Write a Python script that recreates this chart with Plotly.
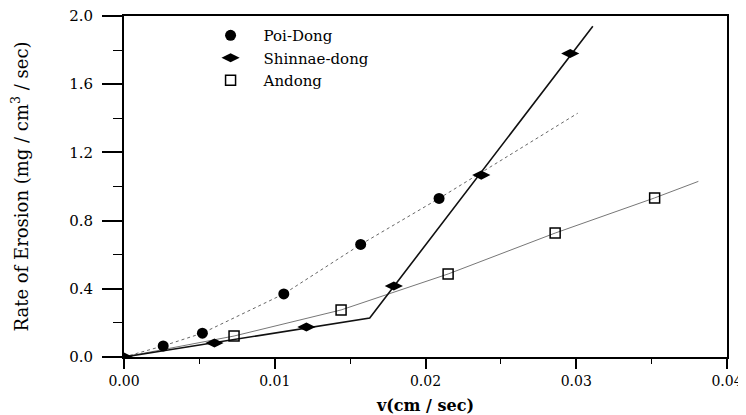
import plotly.graph_objects as go

# ---- data ----
poi_x = [0.0026, 0.0052, 0.0106, 0.0157, 0.0209]
poi_y = [0.065, 0.14, 0.37, 0.66, 0.93]
poi_line_x = [0.0, 0.0026, 0.0052, 0.0106, 0.0157, 0.0209, 0.0301]
poi_line_y = [0.0, 0.065, 0.14, 0.37, 0.66, 0.93, 1.43]

shin_x = [0.0, 0.0060, 0.0121, 0.0179, 0.0237, 0.0296]
shin_y = [0.0, 0.082, 0.176, 0.416, 1.067, 1.78]
shin_line_x = [0.0, 0.0163, 0.0311]
shin_line_y = [0.0, 0.229, 1.94]

and_x = [0.0073, 0.0144, 0.0215, 0.0286, 0.0352]
and_y = [0.123, 0.276, 0.487, 0.727, 0.933]
and_line_x = [0.0, 0.0073, 0.0144, 0.0215, 0.0286, 0.0352, 0.0381]
and_line_y = [0.0, 0.123, 0.276, 0.487, 0.727, 0.933, 1.03]

x_ticks = [0.00, 0.01, 0.02, 0.03, 0.04]
x_tick_text = ["0.00", "0.01", "0.02", "0.03", "0.04"]
y_ticks = [0.0, 0.4, 0.8, 1.2, 1.6, 2.0]
y_tick_text = ["0.0", "0.4", "0.8", "1.2", "1.6", "2.0"]

FONT = "DejaVu Serif"

fig = go.Figure()

# fitted / connecting lines (no legend)
fig.add_trace(go.Scatter(x=poi_line_x, y=poi_line_y, mode="lines",
                         line=dict(color="#666666", width=1, dash="dot"),
                         showlegend=False, hoverinfo="skip"))
fig.add_trace(go.Scatter(x=and_line_x, y=and_line_y, mode="lines",
                         line=dict(color="#777777", width=1),
                         showlegend=False, hoverinfo="skip"))
fig.add_trace(go.Scatter(x=shin_line_x, y=shin_line_y, mode="lines",
                         line=dict(color="#111111", width=1.6),
                         showlegend=False, hoverinfo="skip"))

# markers (legend)
fig.add_trace(go.Scatter(x=poi_x, y=poi_y, mode="markers", name="Poi-Dong",
                         marker=dict(symbol="circle", size=11, color="black")))
fig.add_trace(go.Scatter(x=shin_x, y=shin_y, mode="markers", name="Shinnae-dong",
                         marker=dict(symbol="diamond-wide", size=13, color="black")))
fig.add_trace(go.Scatter(x=and_x, y=and_y, mode="markers", name="Andong",
                         marker=dict(symbol="square-open", size=10, color="black",
                                     line=dict(width=1.5))))

# page body has an 8px margin, so the figure is 738x407 placed at (8, 8)
fig.update_layout(
    width=738, height=407,
    margin=dict(l=116, r=19, t=8, b=58, autoexpand=False),
    paper_bgcolor="white", plot_bgcolor="white",
    font=dict(family=FONT, size=16, color="black"),
    showlegend=True,
    legend=dict(x=0.122, y=0.991, xanchor="left", yanchor="top",
                bgcolor="rgba(0,0,0,0)", font=dict(family=FONT, size=15),
                itemwidth=56),
)

fig.update_xaxes(
    range=[0, 0.04], tickvals=x_ticks, ticktext=x_tick_text,
    ticks="outside", ticklen=10, tickwidth=1.5, tickcolor="black",
    minor=dict(dtick=0.005, ticks="outside", ticklen=5, tickcolor="black", tickwidth=1),
    showline=True, linecolor="black", linewidth=2, mirror=True,
    showgrid=False, zeroline=False, automargin=False, ticklabeloverflow="allow",
    title=dict(text="<b>v(cm / sec)</b>", font=dict(family=FONT, size=16), standoff=14),
    tickfont=dict(family=FONT, size=14),
)
fig.update_yaxes(
    range=[0, 2.0], tickvals=y_ticks, ticktext=y_tick_text,
    ticks="outside", ticklen=20, tickwidth=1.5, tickcolor="black",
    minor=dict(dtick=0.2, ticks="outside", ticklen=9, tickcolor="black", tickwidth=1),
    showline=True, linecolor="black", linewidth=2, mirror=True,
    showgrid=False, zeroline=False, ticklabelstandoff=6, automargin=False,
    ticklabeloverflow="allow",
    title=dict(text="Rate of Erosion (mg / cm<sup>3</sup> / sec)",
               font=dict(family=FONT, size=18), standoff=39),
    tickfont=dict(family=FONT, size=15),
)

fig.write_html("out.html")
